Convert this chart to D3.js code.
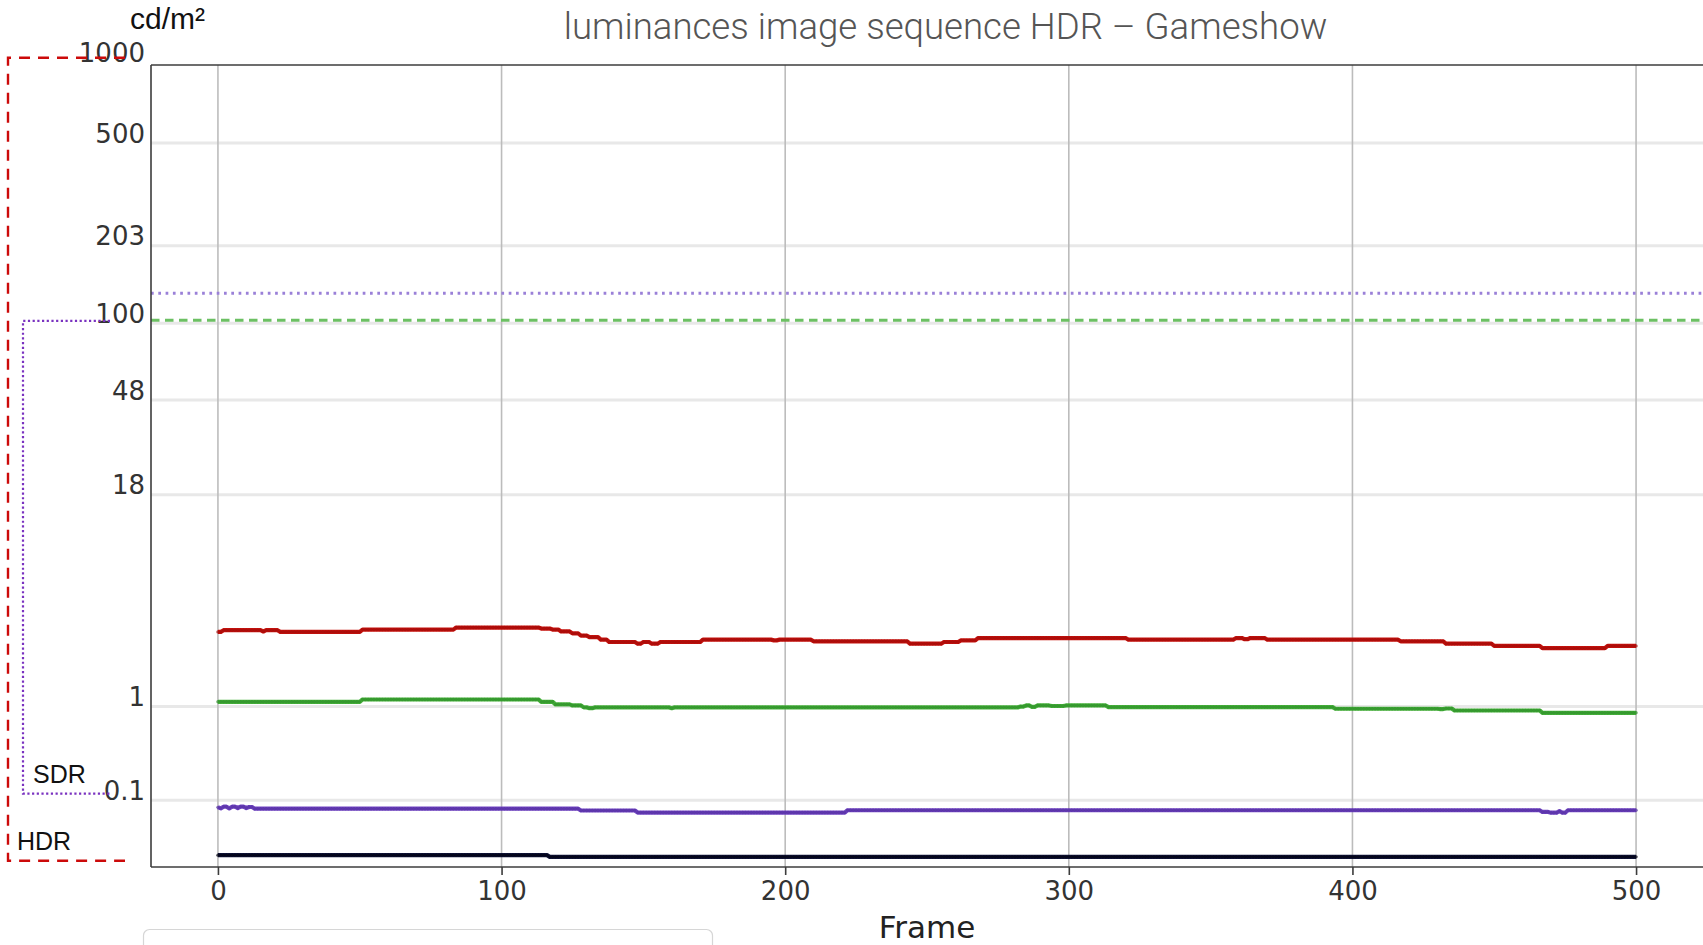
<!DOCTYPE html>
<html>
<head>
<meta charset="utf-8">
<script src="https://cdn.jsdelivr.net/npm/d3@7"></script>
<style>
  html, body { margin: 0; padding: 0; background: #fff; overflow: hidden; }
  svg { display: block; }
</style>
</head>
<body>
<svg id="chart" width="1703" height="945"></svg>
<script>
// ---- data ----------------------------------------------------------------
const frameCount = 500;
const xTicks = [0, 100, 200, 300, 400, 500];
const xDomain = [-23.6, 523.6];

// luminance ticks (cd/m²) on a PQ-encoded axis
const yTickValues = [0.1, 1, 18, 48, 100, 203, 500, 1000];
const yTickLabels = ["0.1", "1", "18", "48", "100", "203", "500", "1000"];

// per-frame luminance as runs: [first frame of run, cd/m²]
const lumRed = [
  [0, 3.31], [2, 3.39], [16, 3.33], [17, 3.39], [22, 3.31], [51, 3.42], [84, 3.52],
  [114, 3.47], [118, 3.42], [121, 3.33], [125, 3.24], [128, 3.14], [131, 3.07],
  [135, 2.96], [138, 2.86], [148, 2.79], [150, 2.86], [153, 2.79], [156, 2.86],
  [171, 2.96], [196, 2.93], [198, 2.96], [210, 2.89], [244, 2.79], [256, 2.86],
  [262, 2.93], [268, 3.03], [321, 2.96], [359, 3.03], [362, 2.98], [364, 3.03],
  [370, 2.96], [417, 2.89], [433, 2.79], [450, 2.70], [467, 2.61], [490, 2.70]
];
const lumGreen = [
  [0, 1.09], [51, 1.136], [114, 1.09], [119, 1.04], [125, 1.02], [129, 0.985],
  [131, 0.97], [133, 0.985], [160, 0.97], [161, 0.985], [283, 1.0], [285, 1.02],
  [287, 0.995], [289, 1.02], [294, 1.01], [299, 1.02], [314, 0.99], [394, 0.96],
  [431, 0.955], [433, 0.965], [436, 0.93], [467, 0.89]
];
const lumPurple = [
  [0, 0.077], [1, 0.074], [2, 0.079], [4, 0.074], [5, 0.079], [7, 0.075], [8, 0.079],
  [10, 0.075], [11, 0.078], [13, 0.073], [128, 0.068], [148, 0.0625], [222, 0.0687],
  [467, 0.064], [470, 0.062], [473, 0.066], [474, 0.062], [476, 0.0687]
];
const lumNavy = [[0, 0.0028], [117, 0.0021]];

// horizontal reference levels (cd/m²)
const refPurple = 132;
const refGreen = 103;

// range brackets on the left (cd/m²)
const hdrRange = [0, 1000];
const sdrRange = [0.1, 100];

// ---- PQ (SMPTE ST 2084) transfer used for the vertical axis --------------
const m1 = 2610 / 16384, m2 = 2523 / 4096 * 128;
const c1 = 3424 / 4096, c2 = 2413 / 4096 * 32, c3 = 2392 / 4096 * 32;
function pq(L) {
  const Y = Math.pow(Math.max(L, 0) / 10000, m1);
  return Math.pow((c1 + c2 * Y) / (1 + c3 * Y), m2);
}

// expand runs into one value per frame
function expandRuns(runs) {
  const out = [];
  for (let f = 0; f <= frameCount; f++) {
    let v = runs[0][1];
    for (const [s, val] of runs) if (s <= f) v = val;
    out.push({ f, v });
  }
  return out;
}

// ---- layout ----------------------------------------------------------------
const M = { left: 151, top: 65, right: 1703, bottom: 867 };
const svg = d3.select("#chart");

const x = d3.scaleLinear().domain(xDomain).range([M.left, M.right]);
const yPQ = d3.scaleLinear().domain([0, 0.7495]).range([M.bottom, M.top]);
const y = v => yPQ(pq(v));

svg.append("defs").append("clipPath").attr("id", "plotClip")
  .append("rect")
  .attr("x", M.left).attr("y", M.top)
  .attr("width", M.right - M.left).attr("height", M.bottom - M.top);

const plot = svg.append("g").attr("clip-path", "url(#plotClip)");

// horizontal grid
plot.append("g").selectAll("line").data(yTickValues).join("line")
  .attr("x1", M.left).attr("x2", M.right)
  .attr("y1", d => y(d)).attr("y2", d => y(d))
  .attr("stroke", "#e8e8e8").attr("stroke-width", 3);

// vertical grid
plot.append("g").selectAll("line").data(xTicks).join("line")
  .attr("x1", d => x(d)).attr("x2", d => x(d))
  .attr("y1", M.top).attr("y2", M.bottom)
  .attr("stroke", "#bcbcbc").attr("stroke-width", 1.6);

// reference levels
plot.append("line")
  .attr("x1", M.left).attr("x2", M.right)
  .attr("y1", y(refPurple)).attr("y2", y(refPurple))
  .attr("stroke", "#9a80d8").attr("stroke-width", 2.8)
  .attr("stroke-dasharray", "2.7,4.6");
plot.append("line")
  .attr("x1", M.left).attr("x2", M.right)
  .attr("y1", y(refGreen)).attr("y2", y(refGreen))
  .attr("stroke", "#6cc063").attr("stroke-width", 3)
  .attr("stroke-dasharray", "8.5,5.5");

// luminance series
const series = [
  { runs: lumRed,    line: "#c8140f", dot: "#a30a08" },
  { runs: lumGreen,  line: "#48b23d", dot: "#2f902a" },
  { runs: lumPurple, line: "#7246c4", dot: "#5530a2" },
  { runs: lumNavy,   line: "#10143a", dot: "#000010" }
];
const lineGen = d3.line().x(d => x(d.f)).y(d => y(d.v));

series.forEach(s => {
  const pts = expandRuns(s.runs);
  const g = plot.append("g");
  g.append("path").datum(pts)
    .attr("d", lineGen)
    .attr("fill", "none").attr("stroke", s.line)
    .attr("stroke-width", 4.2).attr("stroke-linejoin", "round");
  g.selectAll("circle").data(pts).join("circle")
    .attr("cx", d => x(d.f)).attr("cy", d => y(d.v))
    .attr("r", 1.7).attr("fill", s.dot).attr("opacity", 0.7);
});

// frame
const frame = svg.append("g").attr("stroke", "#3c3c3c").attr("stroke-width", 1.6);
frame.append("line").attr("x1", M.left).attr("x2", M.right).attr("y1", M.top).attr("y2", M.top);
frame.append("line").attr("x1", M.left).attr("x2", M.left).attr("y1", M.top).attr("y2", M.bottom);
frame.append("line").attr("x1", M.left).attr("x2", M.right).attr("y1", M.bottom).attr("y2", M.bottom);

// x axis
const xAxis = svg.append("g")
  .attr("transform", `translate(0,${M.bottom})`)
  .call(d3.axisBottom(x).tickValues(xTicks).tickSize(8).tickSizeOuter(0).tickPadding(7));
xAxis.select(".domain").remove();
xAxis.selectAll(".tick line").attr("stroke", "#3c3c3c").attr("stroke-width", 1.6);
xAxis.selectAll(".tick text")
  .attr("font-family", "DejaVu Sans").attr("font-size", 26).attr("fill", "#333");

// y axis (labels sit just above their grid lines)
const yAxis = svg.append("g")
  .attr("transform", `translate(${M.left},0)`)
  .call(d3.axisLeft(yPQ)
    .tickValues(yTickValues.map(pq))
    .tickFormat((d, i) => yTickLabels[i])
    .tickSize(0).tickPadding(6));
yAxis.select(".domain").remove();
yAxis.selectAll(".tick text")
  .attr("font-family", "DejaVu Sans").attr("font-size", 26).attr("fill", "#333")
  .attr("dy", null).attr("y", -1);

// axis title and unit
svg.append("text")
  .attr("x", (M.left + M.right) / 2).attr("y", 938)
  .attr("text-anchor", "middle")
  .attr("font-family", "DejaVu Sans").attr("font-size", 31).attr("fill", "#222")
  .text("Frame");

svg.append("text")
  .attr("x", 130).attr("y", 29)
  .attr("font-family", "Liberation Sans, Arial, sans-serif").attr("font-size", 30).attr("fill", "#111")
  .text("cd/m²");

// title
svg.append("text")
  .attr("x", 945.5).attr("y", 39)
  .attr("text-anchor", "middle")
  .attr("font-family", "Roboto").attr("font-weight", 300).attr("font-size", 36.6).attr("fill", "#555")
  .text("luminances image sequence HDR – Gameshow");

// HDR / SDR range brackets
const hdrTop = y(hdrRange[1]) - 4.7, hdrBottom = y(hdrRange[0]) - 6.3;
svg.append("path")
  .attr("d", `M125,${hdrTop}H8V${hdrBottom}H125`)
  .attr("fill", "none").attr("stroke", "#cc0a0a").attr("stroke-width", 2.4)
  .attr("stroke-dasharray", "11,8");
const sdrTop = y(sdrRange[1]) - 2.4, sdrBottom = y(sdrRange[0]) - 6.7;
svg.append("path")
  .attr("d", `M110,${sdrTop}H23V${sdrBottom}H110`)
  .attr("fill", "none").attr("stroke", "#7a32c0").attr("stroke-width", 2.2)
  .attr("stroke-dasharray", "2.2,2.5");

svg.append("text").attr("x", 33).attr("y", 783)
  .attr("font-family", "Liberation Sans, Arial, sans-serif").attr("font-size", 25).attr("fill", "#111")
  .text("SDR");
svg.append("text").attr("x", 17).attr("y", 850)
  .attr("font-family", "Liberation Sans, Arial, sans-serif").attr("font-size", 25).attr("fill", "#111")
  .text("HDR");

// legend box (runs off the bottom edge)
svg.append("rect")
  .attr("x", 143.5).attr("y", 929.5).attr("width", 569).attr("height", 60).attr("rx", 6)
  .attr("fill", "#fff").attr("stroke", "#d6d6d6").attr("stroke-width", 1.2);
</script>
</body>
</html>
